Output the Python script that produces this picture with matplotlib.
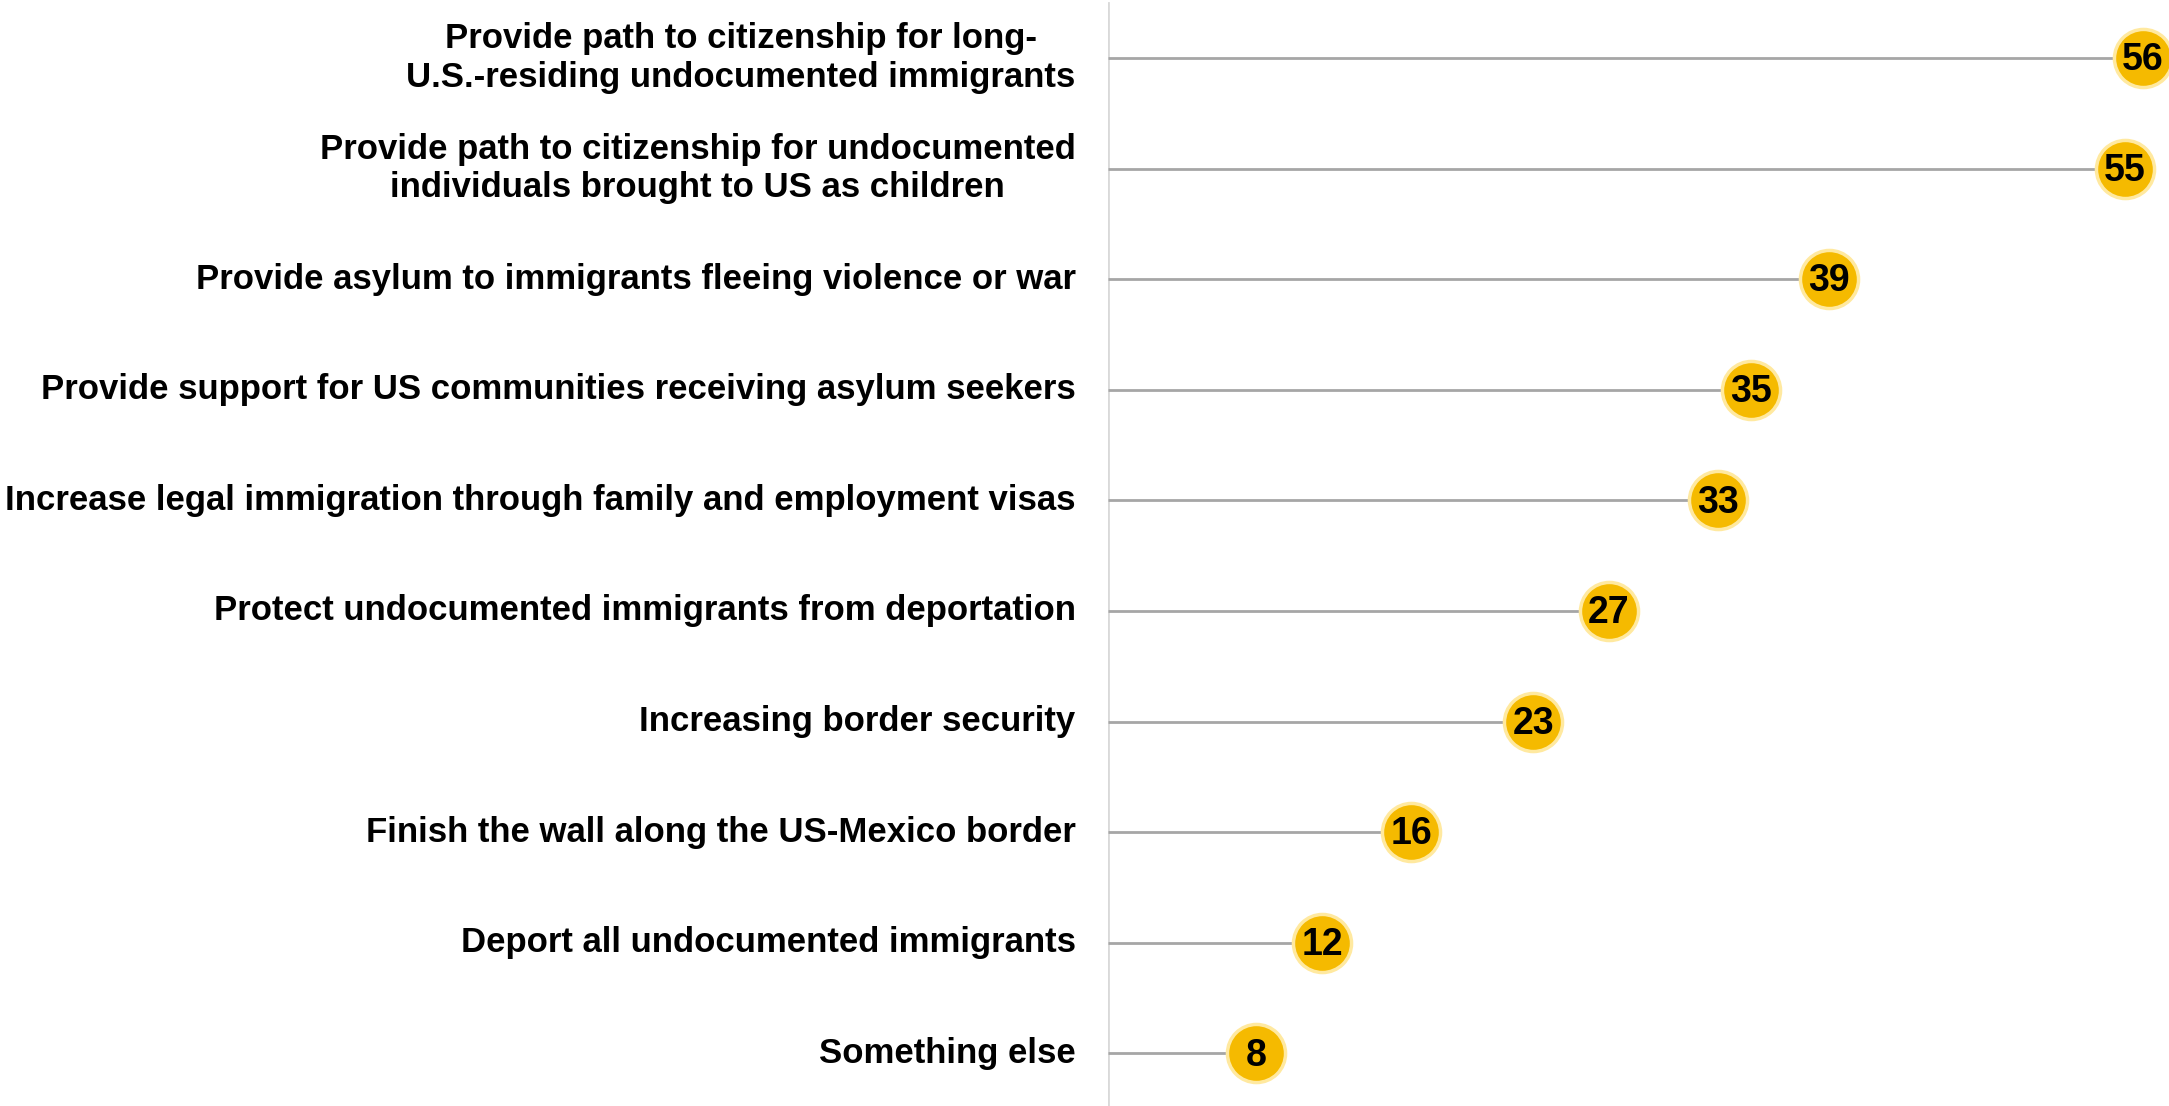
import matplotlib
matplotlib.use("Agg")
import matplotlib.pyplot as plt

plt.rcParams['font.family'] = ['Liberation Sans', 'DejaVu Sans']

# survey options and share (%) choosing each
labels = [
    "Provide path to citizenship for long-\nU.S.-residing undocumented immigrants",
    "Provide path to citizenship for undocumented\nindividuals brought to US as children",
    "Provide asylum to immigrants fleeing violence or war",
    "Provide support for US communities receiving asylum seekers",
    "Increase legal immigration through family and employment visas",
    "Protect undocumented immigrants from deportation",
    "Increasing border security",
    "Finish the wall along the US-Mexico border",
    "Deport all undocumented immigrants",
    "Something else",
]
# unrounded shares (dot positions); labels show them rounded
values = [56, 55, 39, 34.8, 33, 27.1, 23, 16.4, 11.6, 8]

fig = plt.figure(figsize=(21.69, 11.06), dpi=100)
ax = fig.add_axes([1108 / 2169, 0, 1 - 1108 / 2169, 1])

ypos = list(range(len(values)))

# stems
ax.hlines(ypos, 0, values, color="#A6A6A6", lw=2, zorder=1)
# dots
ax.scatter(values, ypos, s=1750, color="#F5BA00", edgecolors="#FFE9A0",
           linewidths=2.5, zorder=3, clip_on=False)
for v, y in zip(values, ypos):
    ax.text(v, y + 0.02, f"{v:.0f}", ha="center", va="center", fontsize=27,
            fontweight="bold", color="black", zorder=4)

# labels at left of axis line
for lab, y in zip(labels, ypos):
    ax.text(-1.75, y, lab, ha="right", va="center", multialignment="center",
            fontsize=25, fontweight="bold", linespacing=1.2, clip_on=False)

ax.axvline(0, ymin=0, ymax=0.997, color="#D9D9D9", lw=2, zorder=0)

ax.set_xlim(0, 57.4)
ax.set_ylim(9.476, -0.524)
ax.axis("off")

fig.savefig("out.png", dpi=100)
